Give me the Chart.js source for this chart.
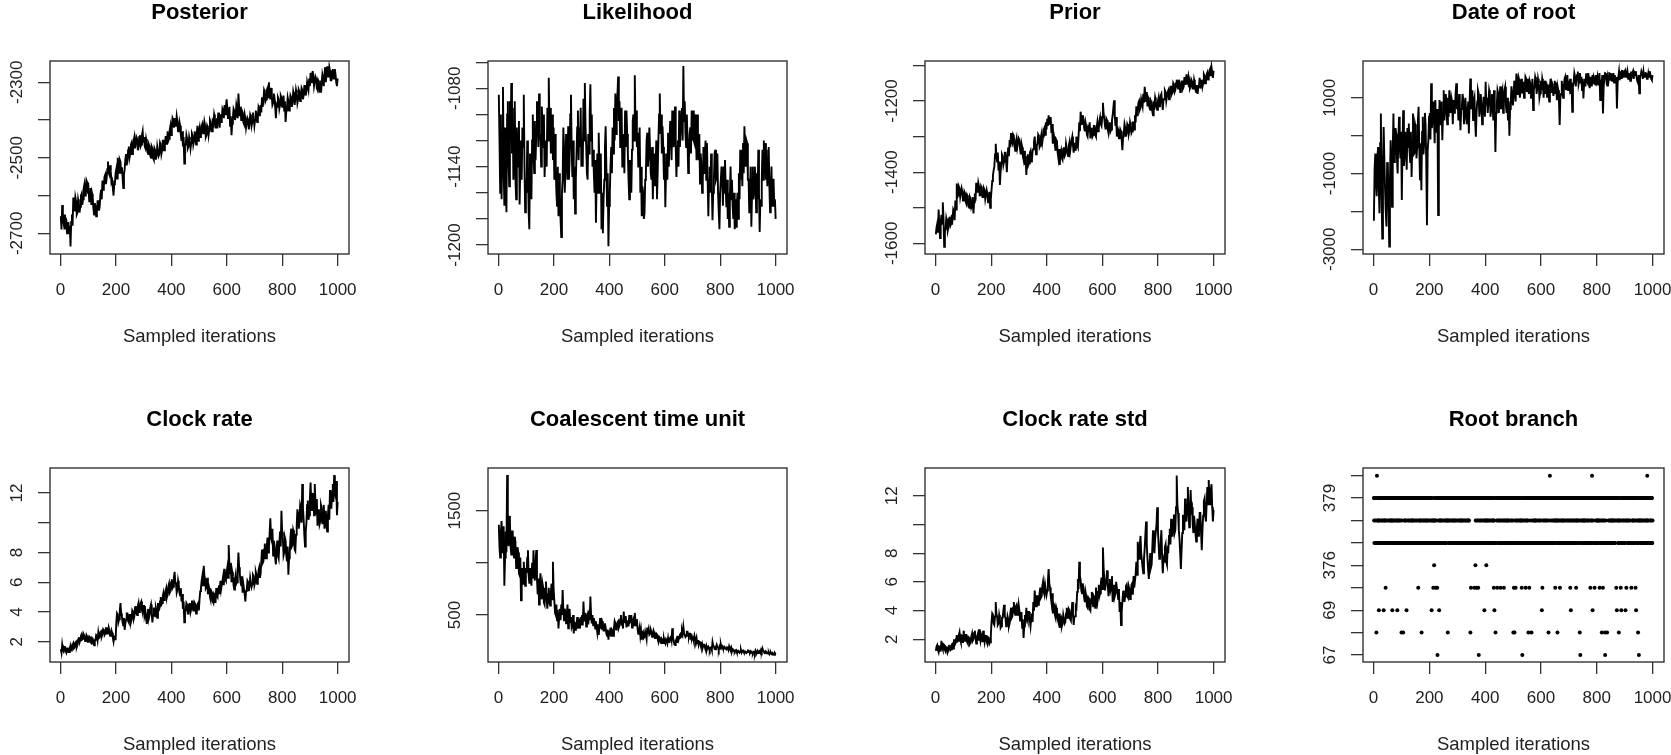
<!DOCTYPE html>
<html>
<head>
<meta charset="utf-8">
<script src="https://cdn.jsdelivr.net/npm/chart.js@4.4.1/dist/chart.umd.min.js"></script>
<style>
html,body{margin:0;padding:0;background:#fff;width:1671px;height:755px;overflow:hidden;position:relative;}
canvas{position:absolute;}
</style>
</head>
<body>
<script>
// ---------------- DATA ----------------
const xTickValues = [0, 200, 400, 600, 800, 1000];
const xAxisTitle = 'Sampled iterations';
// sampling grid of the traces: evenly spread over sampled iterations 1..1000
const sampleGrid = (n) => Array.from({length: n}, (_, i) => 1 + i * 999 / (n - 1));

const posterior = [
-2655,-2690,-2625,-2660,-2672,-2650,-2690,-2660,-2665,-2700,-2695,-2670,-2700,-2680,-2735,-2670,-2650,-2680,-2605,-2640,
-2640,-2605,-2615,-2650,-2645,-2610,-2620,-2645,-2630,-2600,-2595,-2625,-2610,-2580,-2570,-2600,-2590,-2560,-2565,-2595,
-2585,-2615,-2600,-2580,-2625,-2595,-2605,-2635,-2650,-2620,-2630,-2655,-2645,-2615,-2615,-2640,-2630,-2600,-2585,-2610,
-2560,-2585,-2575,-2550,-2545,-2570,-2555,-2530,-2510,-2540,-2545,-2520,-2535,-2565,-2560,-2580,-2600,-2570,-2565,-2540,
-2530,-2555,-2500,-2525,-2540,-2505,-2510,-2540,-2525,-2550,-2580,-2545,-2530,-2505,-2490,-2520,-2505,-2480,-2470,-2500,
-2490,-2465,-2460,-2490,-2480,-2455,-2445,-2475,-2475,-2445,-2450,-2480,-2470,-2445,-2440,-2470,-2465,-2440,-2430,-2460,
-2445,-2470,-2475,-2450,-2460,-2485,-2490,-2465,-2470,-2495,-2500,-2470,-2475,-2500,-2505,-2475,-2480,-2505,-2495,-2470,
-2470,-2495,-2490,-2460,-2465,-2490,-2480,-2455,-2455,-2480,-2470,-2445,-2445,-2465,-2430,-2455,-2450,-2425,-2415,-2440,
-2420,-2395,-2400,-2420,-2395,-2415,-2410,-2390,-2405,-2430,-2425,-2405,-2415,-2440,-2455,-2430,-2470,-2445,-2515,-2465,
-2465,-2440,-2450,-2475,-2470,-2445,-2455,-2475,-2460,-2435,-2440,-2465,-2455,-2430,-2445,-2465,-2435,-2415,-2455,-2430,
-2420,-2445,-2440,-2415,-2410,-2435,-2430,-2405,-2415,-2445,-2440,-2415,-2420,-2440,-2425,-2400,-2405,-2430,-2430,-2405,
-2410,-2385,-2395,-2420,-2420,-2395,-2405,-2380,-2400,-2420,-2385,-2405,-2395,-2370,-2375,-2395,-2360,-2385,-2365,-2345,
-2370,-2395,-2390,-2365,-2415,-2390,-2440,-2410,-2395,-2370,-2375,-2400,-2390,-2360,-2370,-2395,-2330,-2365,-2390,-2365,
-2400,-2375,-2380,-2405,-2410,-2385,-2395,-2420,-2420,-2395,-2400,-2425,-2410,-2385,-2390,-2415,-2405,-2380,-2395,-2415,
-2400,-2375,-2385,-2405,-2395,-2365,-2370,-2390,-2360,-2380,-2340,-2365,-2350,-2320,-2325,-2350,-2345,-2320,-2315,-2340,
-2300,-2330,-2345,-2315,-2335,-2360,-2355,-2330,-2340,-2365,-2395,-2360,-2365,-2340,-2345,-2370,-2360,-2335,-2340,-2365,
-2355,-2335,-2375,-2350,-2405,-2375,-2365,-2340,-2350,-2375,-2360,-2335,-2340,-2365,-2350,-2325,-2335,-2360,-2345,-2320,
-2330,-2355,-2345,-2320,-2325,-2350,-2340,-2315,-2320,-2345,-2335,-2310,-2310,-2335,-2325,-2300,-2300,-2320,-2290,-2310,
-2275,-2300,-2295,-2270,-2285,-2310,-2310,-2285,-2290,-2315,-2320,-2295,-2300,-2325,-2325,-2295,-2305,-2280,-2290,-2310,
-2280,-2260,-2300,-2275,-2258,-2285,-2285,-2260,-2270,-2295,-2295,-2270,-2265,-2290,-2290,-2265,-2280,-2300,-2310,-2290];

const likelihood = [
-1085,-1120,-1160,-1100,-1165,-1130,-1079,-1140,-1170,-1110,-1150,-1175,-1100,-1090,-1135,-1155,-1090,-1120,-1076,-1130,
-1095,-1150,-1120,-1090,-1150,-1165,-1110,-1130,-1140,-1105,-1169,-1140,-1120,-1150,-1110,-1125,-1085,-1140,-1175,-1150,
-1160,-1120,-1140,-1175,-1188,-1130,-1150,-1165,-1120,-1100,-1130,-1145,-1105,-1135,-1115,-1090,-1095,-1125,-1084,-1120,
-1115,-1140,-1094,-1110,-1125,-1100,-1148,-1125,-1120,-1140,-1095,-1120,-1072,-1110,-1095,-1130,-1114,-1100,-1135,-1110,
-1150,-1115,-1140,-1160,-1170,-1140,-1178,-1145,-1160,-1180,-1194,-1160,-1150,-1110,-1125,-1160,-1145,-1115,-1120,-1150,
-1109,-1150,-1135,-1100,-1085,-1125,-1148,-1120,-1165,-1140,-1176,-1150,-1130,-1110,-1097,-1135,-1110,-1125,-1095,-1140,
-1120,-1140,-1088,-1120,-1076,-1110,-1125,-1145,-1150,-1115,-1130,-1100,-1077,-1120,-1100,-1140,-1127,-1145,-1160,-1135,
-1183,-1150,-1130,-1160,-1114,-1140,-1160,-1130,-1188,-1160,-1191,-1165,-1150,-1125,-1109,-1140,-1170,-1145,-1201,-1170,
-1160,-1140,-1125,-1145,-1110,-1130,-1095,-1120,-1084,-1115,-1100,-1085,-1071,-1105,-1090,-1125,-1114,-1095,-1140,-1115,
-1120,-1145,-1097,-1125,-1097,-1115,-1130,-1150,-1165,-1135,-1140,-1160,-1127,-1105,-1100,-1120,-1070,-1110,-1097,-1125,
-1114,-1140,-1130,-1110,-1160,-1140,-1178,-1155,-1160,-1180,-1176,-1150,-1145,-1120,-1114,-1140,-1130,-1110,-1127,-1145,
-1150,-1125,-1165,-1140,-1130,-1155,-1140,-1120,-1165,-1145,-1120,-1100,-1084,-1115,-1100,-1130,-1109,-1125,-1150,-1130,
-1171,-1145,-1130,-1150,-1114,-1140,-1122,-1105,-1110,-1135,-1097,-1120,-1125,-1110,-1094,-1125,-1148,-1125,-1120,-1140,
-1097,-1125,-1114,-1100,-1095,-1120,-1063,-1105,-1090,-1115,-1125,-1100,-1120,-1145,-1135,-1115,-1110,-1130,-1097,-1120,
-1097,-1120,-1122,-1100,-1110,-1135,-1100,-1120,-1135,-1115,-1153,-1130,-1140,-1160,-1150,-1125,-1145,-1130,-1120,-1150,
-1122,-1150,-1178,-1150,-1140,-1160,-1130,-1155,-1181,-1160,-1150,-1130,-1127,-1150,-1148,-1130,-1160,-1175,-1188,-1160,
-1160,-1140,-1150,-1170,-1140,-1160,-1135,-1155,-1171,-1150,-1180,-1160,-1186,-1165,-1140,-1165,-1150,-1170,-1180,-1160,
-1188,-1165,-1186,-1170,-1160,-1180,-1145,-1165,-1127,-1150,-1130,-1155,-1122,-1145,-1109,-1130,-1140,-1120,-1122,-1150,
-1150,-1175,-1160,-1140,-1186,-1160,-1140,-1165,-1160,-1140,-1150,-1175,-1145,-1165,-1127,-1160,-1190,-1165,-1170,-1150,
-1127,-1150,-1120,-1145,-1122,-1150,-1127,-1155,-1140,-1125,-1155,-1175,-1162,-1140,-1170,-1150,-1150,-1170,-1165,-1180];

const prior = [
-1575,-1555,-1545,-1570,-1505,-1550,-1585,-1545,-1520,-1545,-1485,-1530,-1610,-1565,-1560,-1530,-1540,-1565,-1555,-1530,
-1525,-1550,-1545,-1520,-1530,-1505,-1510,-1535,-1480,-1505,-1432,-1470,-1465,-1440,-1445,-1470,-1470,-1445,-1455,-1480,
-1480,-1455,-1460,-1485,-1490,-1465,-1470,-1495,-1500,-1470,-1475,-1500,-1495,-1470,-1516,-1485,-1460,-1480,-1430,-1455,
-1455,-1430,-1440,-1465,-1465,-1440,-1445,-1470,-1470,-1445,-1450,-1475,-1475,-1450,-1460,-1485,-1480,-1455,-1500,-1475,
-1450,-1425,-1410,-1395,-1385,-1350,-1320,-1355,-1370,-1345,-1395,-1370,-1436,-1400,-1375,-1350,-1355,-1380,-1370,-1345,
-1345,-1370,-1400,-1355,-1330,-1355,-1310,-1330,-1290,-1315,-1320,-1295,-1300,-1325,-1340,-1315,-1305,-1330,-1330,-1305,
-1310,-1335,-1350,-1320,-1330,-1355,-1365,-1340,-1380,-1355,-1408,-1370,-1350,-1380,-1375,-1345,-1340,-1370,-1365,-1340,
-1335,-1315,-1300,-1330,-1350,-1325,-1320,-1295,-1300,-1330,-1325,-1300,-1290,-1315,-1300,-1280,-1275,-1295,-1260,-1280,
-1250,-1270,-1240,-1260,-1265,-1245,-1290,-1265,-1320,-1290,-1300,-1325,-1340,-1310,-1315,-1345,-1360,-1335,-1380,-1350,
-1340,-1360,-1365,-1335,-1330,-1355,-1350,-1320,-1320,-1345,-1355,-1325,-1315,-1340,-1340,-1310,-1300,-1325,-1345,-1320,
-1320,-1340,-1300,-1325,-1330,-1300,-1260,-1285,-1230,-1255,-1265,-1240,-1250,-1275,-1285,-1260,-1270,-1295,-1300,-1275,
-1280,-1260,-1305,-1280,-1275,-1300,-1295,-1270,-1270,-1295,-1300,-1275,-1260,-1285,-1280,-1255,-1245,-1265,-1270,-1245,
-1205,-1235,-1250,-1270,-1280,-1250,-1255,-1280,-1290,-1265,-1260,-1285,-1280,-1255,-1240,-1220,-1198,-1240,-1270,-1245,
-1300,-1275,-1280,-1305,-1305,-1280,-1285,-1310,-1338,-1300,-1290,-1265,-1275,-1300,-1290,-1265,-1270,-1295,-1285,-1260,
-1270,-1290,-1285,-1260,-1260,-1280,-1240,-1260,-1215,-1240,-1230,-1205,-1200,-1225,-1220,-1195,-1195,-1215,-1180,-1205,
-1160,-1185,-1200,-1175,-1215,-1190,-1195,-1220,-1225,-1200,-1205,-1230,-1240,-1210,-1215,-1190,-1200,-1220,-1225,-1200,
-1190,-1215,-1210,-1185,-1180,-1205,-1225,-1195,-1195,-1170,-1175,-1200,-1200,-1175,-1170,-1195,-1185,-1160,-1160,-1180,
-1175,-1150,-1155,-1175,-1170,-1150,-1140,-1160,-1165,-1140,-1150,-1175,-1170,-1145,-1145,-1165,-1160,-1135,-1135,-1155,
-1125,-1145,-1150,-1130,-1140,-1165,-1160,-1140,-1145,-1165,-1165,-1140,-1150,-1170,-1175,-1155,-1180,-1160,-1155,-1135,
-1165,-1145,-1140,-1160,-1150,-1125,-1130,-1150,-1145,-1125,-1120,-1140,-1135,-1115,-1110,-1130,-1105,-1120,-1135,-1115];

const dateOfRoot = [
-2250,-900,-470,-1200,-1600,-600,-300,-1400,-2050,-200,585,-1500,-2720,-900,230,-600,-1400,-2000,-2400,-700,
-800,-1800,-2930,-1200,-120,-900,-1880,-400,585,-700,-300,200,50,-600,-1000,-100,500,-300,-600,100,
-1700,-200,670,-800,-500,100,-380,-900,200,-300,320,-400,-700,100,-1090,-200,585,-500,-470,300,
200,-600,-300,400,760,-300,-1180,-200,-1440,100,500,-500,-200,600,300,-700,-2365,-400,-120,500,
600,-100,1380,200,400,900,500,-200,940,100,300,700,-2100,200,940,300,500,900,-120,600,
1200,400,700,1100,760,300,1000,500,1200,700,600,1000,900,300,940,600,700,1100,1380,700,
900,400,1100,600,145,700,800,1100,940,300,500,1000,700,300,410,900,57,800,1510,700,
800,1200,410,900,1000,400,-30,600,900,1200,1115,500,700,1100,800,300,550,1000,1000,500,
1420,800,1000,600,900,1200,1100,500,700,1100,800,400,1200,700,-430,600,800,1200,1115,600,
1000,1300,700,1100,1200,600,900,1200,1290,800,600,1000,400,900,-5,700,900,1300,1100,800,
1026,1450,1300,900,1640,1100,1380,1550,1470,1000,1200,1500,1115,1400,1400,1000,1250,1550,1500,1150,
1290,1500,1100,1450,1380,1000,1200,1500,675,1200,1300,1550,1470,1100,1250,1500,1380,1000,1115,1450,
1200,1500,1380,1000,1300,1450,1100,1400,1026,1350,1200,900,1291,1500,1150,1400,1350,1050,1203,1450,
1100,1400,938,1300,1200,900,278,1000,1100,1450,1203,1000,1300,1500,1555,1200,1400,1600,1200,1450,
1291,1500,1100,1400,630,1300,1400,1650,1555,1300,1500,1600,1690,1350,1450,1650,1380,1550,1200,1500,
980,1400,1500,1300,1643,1450,1400,1650,1467,1250,1550,1400,1300,1600,1379,1550,1500,1350,1600,1450,
1555,1350,1450,1650,938,1400,1350,1600,586,1300,1500,1650,1643,1450,1550,1300,1450,1650,1643,1450,
1643,1450,1500,1650,1400,1600,1379,1550,718,1400,1550,1700,1467,1600,1650,1500,1731,1550,1600,1700,
1731,1550,1600,1700,1500,1650,1555,1450,1690,1550,1643,1700,1500,1650,1600,1700,1555,1450,1400,1600,
1115,1550,1600,1700,1643,1500,1690,1550,1555,1650,1643,1500,1500,1650,1555,1700,1600,1500,1467,1600];

const clockRate = [
1.5,1.25,1.8,1.45,1.35,1.65,1.7,1.35,1.25,1.55,1.6,1.3,1.3,1.6,1.75,1.4,1.5,1.8,1.9,1.55,
1.6,1.95,2.0,1.65,1.8,2.15,2.3,1.95,2.1,2.4,2.5,2.15,2.2,2.5,2.4,2.05,2.1,2.45,2.35,2.0,
2.0,2.35,2.3,1.95,1.9,2.25,2.2,1.85,1.75,2.1,2.1,2.45,2.4,2.1,2.6,2.25,2.3,2.65,2.7,2.35,
2.5,2.85,2.8,2.45,2.55,2.9,2.9,2.55,2.6,2.95,2.75,2.4,2.45,2.75,2.6,2.25,2.0,2.35,2.4,2.1,
3.3,3.9,3.8,3.3,3.5,4.1,4.6,3.9,3.7,3.3,3.1,3.6,2.8,3.2,3.5,3.9,3.9,3.4,3.3,3.8,
3.8,3.3,3.5,4.1,4.0,3.5,3.7,4.3,4.4,3.9,3.8,4.4,4.6,4.0,4.1,4.6,4.7,4.1,3.9,4.4,
4.4,3.8,4.0,3.5,3.2,3.8,4.2,3.6,3.8,4.3,4.5,3.9,3.3,3.8,4.3,3.8,3.7,4.3,4.1,3.6,
4.6,4.1,4.2,4.7,5.0,4.5,4.6,5.1,5.3,4.8,4.9,5.4,5.6,5.0,5.2,5.7,5.9,5.3,5.4,6.0,
6.2,5.6,5.7,6.3,6.7,6.0,5.9,5.3,5.5,6.1,5.8,5.3,5.1,5.6,4.7,5.2,4.2,4.7,3.3,4.0,
4.1,4.6,4.5,3.9,3.9,4.5,4.6,4.0,4.2,4.7,4.7,4.1,4.1,4.6,4.5,3.9,4.0,4.5,4.6,4.1,
4.9,5.4,5.6,6.1,6.4,5.8,7.1,6.4,6.2,5.6,5.7,6.3,5.2,5.8,5.6,5.0,4.8,5.4,5.3,4.7,
4.6,5.2,5.1,4.6,5.6,5.1,5.0,5.6,5.8,5.2,6.1,5.5,5.5,6.1,6.4,5.8,6.9,6.2,6.1,6.7,
7.0,6.3,8.5,7.2,6.6,7.3,6.0,6.7,6.4,5.8,5.5,6.2,6.5,5.9,6.0,6.8,8.0,7.0,6.6,6.0,
5.8,6.4,5.3,5.9,5.9,5.2,4.7,5.4,5.5,6.1,6.0,5.4,5.7,6.3,6.3,5.7,5.9,6.5,6.4,5.8,
6.0,6.7,6.5,5.9,6.1,6.8,7.0,6.3,6.6,7.4,8.2,7.3,7.4,8.2,8.6,7.6,7.6,8.5,9.0,8.0,
8.3,9.3,10.3,9.0,8.8,9.6,7.8,8.8,8.5,7.6,7.2,8.2,8.8,7.8,7.6,8.6,9.4,8.4,10.8,9.4,
9.0,7.8,8.0,9.0,8.8,7.8,7.4,8.4,6.5,7.6,8.0,9.0,9.6,8.4,8.5,9.5,9.3,8.2,8.1,9.2,
9.8,10.9,10.6,9.6,10.1,11.2,11.0,10.0,12.6,11.0,10.2,9.2,8.4,9.4,10.0,11.2,11.5,10.2,10.5,11.6,
12.7,11.2,10.8,12.0,11.6,10.5,12.6,11.4,10.6,11.6,9.8,10.8,10.9,9.9,10.1,11.2,11.0,9.9,10.3,11.2,
9.6,10.6,10.8,9.7,9.4,10.5,11.2,10.2,12.2,11.0,11.0,12.0,12.6,11.4,13.2,12.0,11.8,12.8,10.5,11.4];

const coalescentTimeUnit = [
1365,1150,1050,1300,1400,1100,1150,1350,780,1050,1300,1100,1842,1300,1160,1450,1395,1150,1080,1300,
1300,1100,1050,1250,1200,950,1000,1150,1100,900,880,1050,640,850,950,800,1011,850,780,950,
900,1050,1120,880,800,950,900,780,1000,850,1120,900,830,1000,1123,850,700,850,600,780,
900,700,650,800,760,620,600,750,820,650,560,700,760,620,590,720,800,650,1011,750,
640,520,500,600,450,550,372,480,560,450,600,500,740,550,450,560,520,420,500,600,
372,480,560,430,480,380,400,500,324,430,420,350,400,480,370,440,450,370,480,400,
500,400,628,480,440,520,390,470,500,410,540,450,676,500,420,500,400,470,430,370,
440,380,330,410,308,380,470,380,372,440,420,350,350,420,380,320,300,360,263,330,
320,380,300,360,350,300,380,440,420,360,370,430,440,380,400,460,500,420,430,370,
532,440,430,490,380,440,450,390,500,430,440,500,380,440,460,400,520,440,400,460,
370,320,340,380,300,350,263,310,330,280,290,340,310,270,380,320,360,310,320,360,
340,290,300,350,330,280,280,320,310,270,244,290,280,240,230,270,260,230,275,245,
228,270,260,230,280,240,240,280,300,260,372,290,250,220,212,250,270,240,300,260,
280,310,320,290,350,320,388,330,330,290,300,340,340,300,290,320,320,290,300,270,
280,250,300,270,250,280,230,260,215,245,240,210,200,225,190,215,215,190,180,205,
170,195,200,175,160,185,190,165,240,205,200,175,170,195,215,190,185,165,195,175,
220,190,200,180,175,195,195,175,170,190,185,165,200,180,165,185,150,170,170,150,
145,160,165,145,140,158,155,140,150,165,140,155,160,145,135,150,150,135,145,160,
160,145,140,155,150,135,130,148,145,130,160,145,140,155,135,148,155,140,165,150,
180,160,150,135,135,150,145,130,130,142,125,138,140,125,120,135,130,118,135,125];

const clockRateStd = [
1.2,1.5,1.6,1.25,1.1,1.45,1.5,1.15,1.9,1.45,1.3,1.65,1.6,1.25,1.15,1.45,1.5,1.1,1.25,1.55,
1.6,1.25,1.3,1.65,1.7,1.35,2.0,1.6,1.7,2.05,2.3,1.85,1.9,2.3,2.5,2.0,1.8,2.25,2.2,1.75,
2.6,2.1,1.9,2.3,2.3,1.8,1.7,2.15,2.1,1.7,1.8,2.2,2.4,1.9,2.0,2.45,2.6,2.1,1.7,2.1,
2.3,1.9,2.7,2.2,1.9,2.35,2.2,1.8,2.6,2.1,1.8,2.25,2.3,1.85,1.7,2.15,2.1,1.7,1.8,2.3,
3.2,3.8,3.7,3.1,3.0,3.6,4.6,3.8,3.6,3.0,3.1,3.7,3.4,2.8,2.9,3.5,3.5,4.0,4.4,3.6,
3.5,2.9,3.0,3.6,3.4,2.9,3.1,3.8,4.2,3.5,3.6,4.2,4.6,3.9,3.7,4.3,4.4,3.7,3.8,4.4,
4.0,3.3,3.4,3.9,2.8,3.4,2.1,2.9,3.7,3.1,4.2,3.5,3.3,3.9,3.9,3.3,2.9,3.5,3.8,3.2,
4.6,4.0,5.4,4.7,4.3,5.0,5.0,4.4,4.5,5.2,5.6,4.9,5.0,5.7,6.0,5.3,5.1,5.8,5.8,5.1,
5.4,6.1,6.9,5.9,5.6,5.0,4.6,5.2,3.8,4.5,4.4,3.7,3.5,4.2,4.0,3.4,3.2,3.8,2.8,3.4,
3.5,2.9,3.1,3.7,3.7,3.1,3.2,3.8,4.2,3.5,3.5,4.1,4.0,3.4,3.3,3.9,4.6,3.8,3.0,3.6,
3.6,4.3,4.2,5.3,6.2,5.5,7.4,6.4,6.1,5.4,5.2,5.9,5.6,4.9,4.6,5.3,5.0,4.3,4.2,4.9,
4.8,4.1,4.0,4.8,5.3,4.6,4.3,5.0,4.9,4.2,5.6,4.9,4.6,5.3,5.8,5.0,5.2,5.9,6.3,5.5,
8.4,7.0,6.2,5.4,5.4,6.2,6.8,5.8,5.0,5.8,6.2,5.4,5.6,6.4,4.6,5.4,5.8,5.0,5.2,6.0,
6.0,5.2,4.8,5.5,3.9,4.6,3.0,3.9,4.6,5.3,5.4,4.6,5.0,5.7,5.8,5.0,4.9,5.7,5.5,4.8,
5.0,5.8,5.9,5.1,6.4,5.6,5.6,6.5,7.4,6.5,8.8,7.6,7.6,8.6,9.2,8.0,8.0,7.0,6.6,7.6,
8.3,9.3,10.2,8.6,7.6,6.8,6.2,7.2,8.0,7.0,7.2,8.4,9.6,8.4,8.0,9.0,9.0,10.0,11.2,9.6,
8.6,7.6,7.8,8.8,9.6,7.8,6.6,7.6,7.4,8.4,8.6,7.4,7.2,8.3,8.2,9.2,9.7,8.6,10.4,9.2,
9.2,10.2,10.7,9.4,9.6,11.2,13.4,11.4,10.8,9.6,9.0,8.0,6.9,8.2,9.4,10.6,10.6,9.6,11.8,10.6,
10.2,11.4,12.6,10.8,9.8,11.0,12.4,11.0,11.2,10.0,9.4,10.6,10.6,9.4,8.8,9.8,10.4,9.2,9.6,10.8,
10.8,9.4,8.2,9.6,10.6,11.6,11.8,10.6,10.2,11.4,12.6,11.4,13.1,11.8,11.4,12.4,12.8,11.2,10.2,11.0];

// Root branch: one level code (1..9) per sampled iteration 1..1000
const rootBranchLevels = ['67','68','69','375','376','377','378','379','380'];
const rootBranchShownLabels = ['67','69','376','379'];
const rootBranchCodes = [
"8768876862","6978768736","7868678876","8687837687","8746687868","8768876867","6878763786","7868678876","8687367687","8786687862",
"8768826867","6878768386","7868678876","8687867687","8786687868","8768876864","6878768786","7268678876","8687867687","8786687868",
"8768876367","6874765786","7468678416","8687367687","8786687868","8768876867","6878728786","7868678876","8687867687","8786687868",
"8768876867","6878768786","7868678876","8687867687","8768682648","8686886868","4868578647","8687461687","8786687868","8768873867",
"6875768786","7868678876","8687867687","4736682868","8748876867","6878468786","7868674876","8687867687","8786687868","8768876867",
"2848268746","7868678876","8687867687","4716687868","8768476867","6878268486","7868628876","8687867687","8786687868","8768876867",
"6838468786","7868678876","8687862687","8986687868","8768876867","4878768726","7868678476","8687867687","8786687868","8768876867",
"6878463786","7868678876","8687847687","8786687828","1768876867","6878768786","7868678876","8687864687","8796387868","8468876867",
"6878768784","7868678276","8487867621","8786682868","8768876867","6878768786","7868678874","8387867627","8786647368","8768876867",
"6838748786","7868678876","8684867687","8786687848","3768876267","1878768786","7868678876","8687867687","9786687868","8768876867"
].join('');

// y-axis ticks and the labels R kept
const posteriorTicks = [-2700,-2600,-2500,-2400,-2300];
const posteriorLabels = [-2700,-2500,-2300];
const likelihoodTicks = [-1200,-1180,-1160,-1140,-1120,-1100,-1080,-1060];
const likelihoodLabels = [-1200,-1140,-1080];
const priorTicks = [-1600,-1500,-1400,-1300,-1200,-1100];
const priorLabels = [-1600,-1400,-1200];
const dateOfRootTicks = [-3000,-2000,-1000,0,1000];
const dateOfRootLabels = [-3000,-1000,1000];
const clockRateTicks = [2,4,6,8,10,12];
const clockRateLabels = [2,4,6,8,12];
const coalescentTicks = [500,1000,1500];
const coalescentLabels = [500,1500];
const clockRateStdTicks = [2,4,6,8,10,12];
const clockRateStdLabels = [2,4,6,8,12];
const rootBranchTicks = [1,2,3,4,5,6,7,8,9];

// ---------------- LAYOUT ----------------
const FONT = "'Liberation Sans', Arial, Helvetica, sans-serif";
Chart.defaults.font.family = FONT;
const YW = 50;      // width reserved left / right of each box
const TOPH = 61;    // title band height
const XH = 94;      // x axis band height
const TICK_FS = 17, XTITLE_FS = 18.5, TITLE_FS = 22;

function measure(text, px) {
  const c = document.createElement('canvas').getContext('2d');
  c.font = px + 'px ' + FONT;
  return c.measureText(text).width;
}

const traceSeries = (vals) => { const g = sampleGrid(vals.length); return vals.map((v, i) => ({x: g[i], y: v})); };
const rootSeries = () => rootBranchCodes.split('').map((c, i) => ({x: i + 1, y: +c}));

const panels = [
  {title:'Posterior', box:[50,61,349,254], yr:[-2754.8,-2243.6], ticks:posteriorTicks, labels:posteriorLabels, data:traceSeries(posterior)},
  {title:'Likelihood', box:[488,61,787,254], yr:[-1206.9,-1059.1], ticks:likelihoodTicks, labels:likelihoodLabels, data:traceSeries(likelihood)},
  {title:'Prior', box:[925,61,1225,254], yr:[-1630,-1087.6], ticks:priorTicks, labels:priorLabels, data:traceSeries(prior)},
  {title:'Date of root', box:[1363,61,1664,254], yr:[-3125,1970], ticks:dateOfRootTicks, labels:dateOfRootLabels, data:traceSeries(dateOfRoot)},
  {title:'Clock rate', box:[50,468,349,662], yr:[0.635,13.68], ticks:clockRateTicks, labels:clockRateLabels, data:traceSeries(clockRate)},
  {title:'Coalescent time unit', box:[488,468,787,662], yr:[49.4,1909], ticks:coalescentTicks, labels:coalescentLabels, data:traceSeries(coalescentTimeUnit)},
  {title:'Clock rate std', box:[925,468,1225,662], yr:[0.42,13.93], ticks:clockRateStdTicks, labels:clockRateStdLabels, data:traceSeries(clockRateStd)},
  {title:'Root branch', box:[1363,468,1664,662], yr:[0.69,9.34], ticks:rootBranchTicks,
   labels:[1,3,5,8], fmt:(v)=>rootBranchLevels[v-1], data:rootSeries(), scatter:true}
];

const boxPlugin = {
  id: 'rbox',
  afterDraw(chart) {
    const a = chart.chartArea, ctx = chart.ctx;
    ctx.save();
    ctx.strokeStyle = '#333';
    ctx.lineWidth = 1.4;
    ctx.strokeRect(a.left, a.top, a.right - a.left, a.bottom - a.top);
    ctx.restore();
  }
};

panels.forEach(p => {
  const [L, T, R, B] = p.box;
  const W = (R - L) + 2 * YW;
  const H = (B - T) + TOPH + XH;
  const cv = document.createElement('canvas');
  cv.width = W; cv.height = H;
  cv.style.left = (L - YW) + 'px';
  cv.style.top = (T - TOPH) + 'px';
  cv.style.width = W + 'px';
  cv.style.height = H + 'px';
  document.body.appendChild(cv);

  const fmt = p.fmt || ((v) => String(v));
  const shown = p.labels.map(fmt);
  const widest = Math.max(...shown.map(s => measure(s, TICK_FS)));
  const yPad = 32.5 - 12 - widest / 2;

  const ds = p.scatter ? {
      type: 'scatter', data: p.data, yAxisID: 'y', xAxisID: 'x',
      pointRadius: 2.0, pointHoverRadius: 2.0, pointBorderWidth: 0,
      backgroundColor: '#000', borderColor: '#000', showLine: false
    } : {
      type: 'line', data: p.data, yAxisID: 'y', xAxisID: 'x',
      borderColor: '#000', borderWidth: 1.9, pointRadius: 0, tension: 0, fill: false
    };

  new Chart(cv, {
    type: p.scatter ? 'scatter' : 'line',
    data: { datasets: [ds] },
    options: {
      responsive: false, animation: false, devicePixelRatio: 1,
      layout: { padding: 0 },
      plugins: {
        legend: { display: false },
        tooltip: { enabled: false },
        title: {
          display: true, text: p.title, color: '#000',
          font: { size: TITLE_FS, weight: 'bold' },
          padding: { top: 0, bottom: TOPH - TITLE_FS * 1.2 }
        }
      },
      scales: {
        x: {
          type: 'linear', position: 'bottom', min: -38, max: 1041,
          afterBuildTicks: (s) => { s.ticks = xTickValues.map(v => ({value: v})); },
          afterFit: (s) => { s.height = XH; },
          grid: { display: true, drawOnChartArea: false, drawTicks: true, tickLength: 12, color: '#333', lineWidth: 1.3 },
          border: { display: false },
          ticks: { autoSkip: false, maxRotation: 0, minRotation: 0, color: '#222', font: { size: TICK_FS }, padding: 13.8, callback: (v) => String(v) },
          title: { display: true, text: xAxisTitle, color: '#222', font: { size: XTITLE_FS }, padding: { top: 0, bottom: 0.4 } }
        },
        y: {
          type: 'linear', position: 'left', min: p.yr[0], max: p.yr[1],
          afterBuildTicks: (s) => { s.ticks = p.ticks.map(v => ({value: v})); },
          afterFit: (s) => { s.width = YW; },
          grid: { display: true, drawOnChartArea: false, drawTicks: true, tickLength: 12, color: '#333', lineWidth: 1.3 },
          border: { display: false },
          ticks: {
            autoSkip: false, minRotation: 90, maxRotation: 90, crossAlign: 'center',
            color: '#222', font: { size: TICK_FS }, padding: yPad,
            callback: (v) => p.labels.includes(v) ? fmt(v) : ''
          }
        },
        yR: {
          type: 'linear', position: 'right', display: true,
          grid: { display: false }, border: { display: false }, ticks: { display: false },
          afterFit: (s) => { s.width = YW; }
        }
      }
    },
    plugins: [boxPlugin]
  });
});
</script>
</body>
</html>
